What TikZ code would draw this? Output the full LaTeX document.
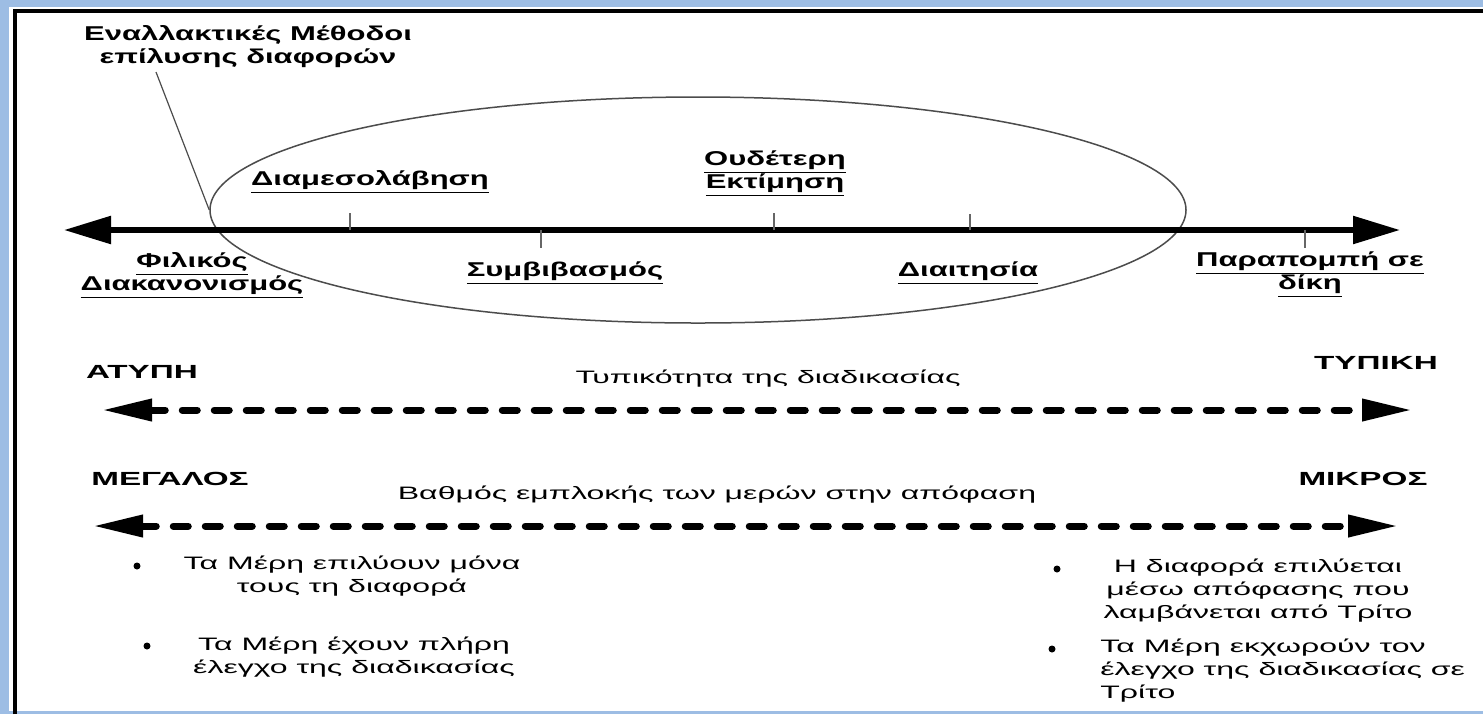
\documentclass[tikz,border=0pt]{standalone}
\usepackage{fontspec}
\setmainfont{Liberation Sans}
\newfontfamily\lblfont[FakeStretch=1.55]{Liberation Sans}
\newfontfamily\capfont[FakeStretch=1.75]{Liberation Sans}
\newfontfamily\txtfont[FakeStretch=1.78]{Liberation Sans}
\usetikzlibrary{arrows.meta,shapes.geometric}
\definecolor{frameblue}{RGB}{157,189,228}
\newcommand{\ulabel}[1]{\underline{#1}}
\begin{document}
\begin{tikzpicture}[x=0.5pt,y=-0.5pt,
lbl/.style = {font=\lblfont\bfseries\fontsize{10}{11.5}\selectfont, align=center, inner sep=0pt},
caps/.style = {font=\capfont\bfseries\fontsize{9.5}{11}\selectfont, inner sep=0pt},
txt/.style = {font=\txtfont\fontsize{9}{11.5}\selectfont, align=center, inner sep=0pt},
dot/.style = {circle, fill = black, inner sep = 0pt, minimum size = 3.5pt},
axis/.style = {line width=2.75pt, {Triangle[length=23.5pt,width=13.5pt]}-{Triangle[length=23.5pt,width=13.5pt]}},
dashaxis/.style = {line width=3.5pt, line cap=round, dash pattern=on 7.5pt off 8.5pt, {Triangle[length=25pt,width=10.5pt]}-{Triangle[length=25pt,width=10.5pt]}},
tick/.style = {line width=1pt, black!60},]
\useasboundingbox (0,0) rectangle (1483,714);
% frame
\fill[frameblue] (0,0) rectangle (1483,714);
\fill[white] (9,7) rectangle (1483,711);
\draw[line width=2pt] (15,714)--(15,11)--(1483,11);
% methods on the axis
\node (alt) at (698,210)[ellipse, draw=black!70, line width=0.75pt, minimum width=488pt, minimum height=113pt, inner sep=0pt] {};
\coordinate (axL) at (64,230);
\coordinate (axR) at (1400,230);
\draw[axis] (axL)--(axR);
\foreach \x/\d in {350/-17, 541/18, 774/-17, 970/-16, 1305/18}
  \draw[tick] (\x,230)--++(0,\d);
\node (title) at (248,47)[lbl] {Εναλλακτικές Μέθοδοι\\επίλυσης διαφορών};
\coordinate (ptr) at (156,72);
\draw[black!70, line width=0.6pt] (ptr)--(alt.west);
\node (med) at (370,182)[lbl] {\ulabel{Διαμεσολάβηση}};
\node (neu) at (775,174)[lbl] {\ulabel{Ουδέτερη}\\\ulabel{Εκτίμηση}};
\node (com) at (565,273)[lbl] {\ulabel{Συμβιβασμός}};
\node (arb) at (968,273)[lbl] {\ulabel{Διαιτησία}};
\node (fri) at (192,276)[lbl] {\ulabel{Φιλικός}\\\ulabel{Διακανονισμός}};
\node (crt) at (1310,275)[lbl] {\ulabel{Παραπομπή σε}\\\ulabel{δίκη}};
% formality
\node (inf) at (142,372)[caps] {ΑΤΥΠΗ};
\node (frm) at (1376,363)[caps] {ΤΥΠΙΚΗ};
\node (form) at (768,379)[txt] {Τυπικότητα της διαδικασίας};
\coordinate (f1) at (102,410);
\coordinate (f2) at (1412,410);
\draw[dashaxis] (f1)--(f2);
% involvement
\node (big) at (170,479)[caps] {ΜΕΓΑΛΟΣ};
\node (sml) at (1363,479)[caps] {ΜΙΚΡΟΣ};
\node (inv) at (717,495)[txt] {Βαθμός εμπλοκής των μερών στην απόφαση};
\coordinate (g1) at (93,526);
\coordinate (g2) at (1398,526);
\draw[dashaxis] (g1)--(g2);
% bullets
\node (d1) at (137,566)[dot] {};
\node (t1) at (352,576)[txt] {Τα Μέρη επιλύουν μόνα\\τους τη διαφορά};
\node (d2) at (147,646)[dot] {};
\node (t2) at (354,657)[txt] {Τα Μέρη έχουν πλήρη\\έλεγχο της διαδικασίας};
\node (d3) at (1057,569)[dot] {};
\node (t3) at (1258,591)[txt] {Η διαφορά επιλύεται\\μέσω απόφασης που\\λαμβάνεται από Τρίτο};
\node (d4) at (1052,649)[dot] {};
\node (t4) at (1100,671)[txt, align=left, anchor=west] {Τα Μέρη εκχωρούν τον\\έλεγχο της διαδικασίας σε\\Τρίτο};
\end{tikzpicture}
\end{document}
